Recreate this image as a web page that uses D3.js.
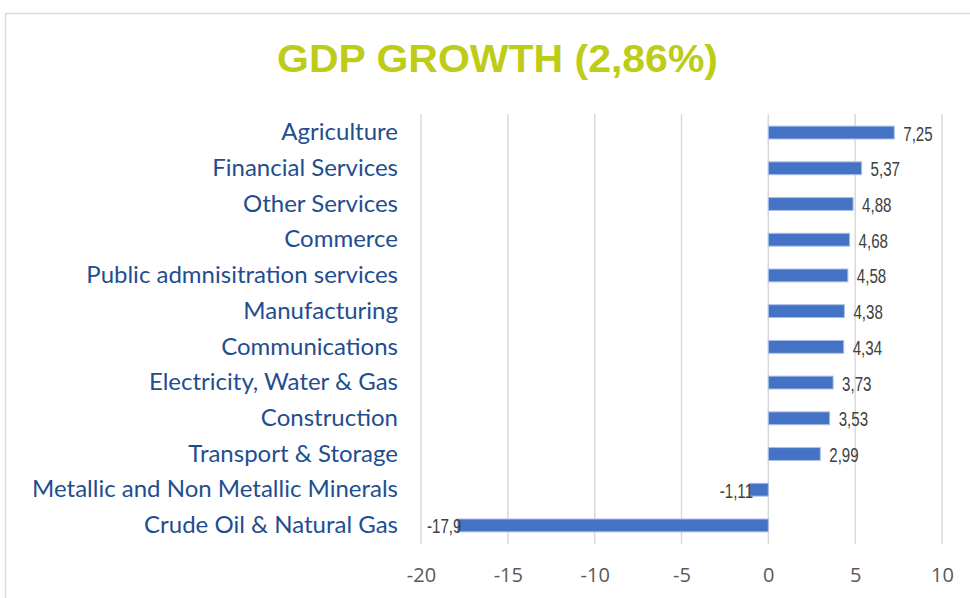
<!DOCTYPE html>
<html>
<head>
<meta charset="utf-8">
<script src="https://cdn.jsdelivr.net/npm/d3@7"></script>
<style>
  body { margin: 0; background: #fff; }
</style>
</head>
<body>
<svg></svg>
<script>
// chart data
let categories = [
  'Agriculture',
  'Financial Services',
  'Other Services',
  'Commerce',
  'Public admnisitration services',
  'Manufacturing',
  'Communications',
  'Electricity, Water & Gas',
  'Construction',
  'Transport & Storage',
  'Metallic and Non Metallic Minerals',
  'Crude Oil & Natural Gas'
];
let values = [7.25, 5.37, 4.88, 4.68, 4.58, 4.38, 4.34, 3.73, 3.53, 2.99, -1.11, -17.9];
let labels = ['7,25', '5,37', '4,88', '4,68', '4,58', '4,38', '4,34', '3,73', '3,53', '2,99', '-1,11', '-17,9'];
let ticks = [-20, -15, -10, -5, 0, 5, 10];
let title = 'GDP GROWTH (2,86%)';

// configuration of svg/plot area
let config = { svg: {}, plot: {} };
config.svg.width = 970;
config.svg.height = 598;
config.plot.left = 421;
config.plot.right = 942;
config.plot.top = 114;
config.plot.bottom = 544;

let svg = d3.select('svg')
  .attr('width', config.svg.width)
  .attr('height', config.svg.height);

// outer frame
svg.append('rect')
  .attr('x', 5.5).attr('y', 13.5)
  .attr('width', 980).attr('height', 600)
  .attr('fill', 'none')
  .attr('stroke', '#d9d9d9')
  .attr('stroke-width', 1.5);

svg.append('text')
  .attr('x', 277).attr('y', 72)
  .attr('textLength', 441)
  .attr('lengthAdjust', 'spacingAndGlyphs')
  .attr('font-family', 'Liberation Sans, sans-serif')
  .attr('font-weight', 'bold')
  .attr('font-size', 39)
  .attr('fill', '#bdcc16')
  .text(title);

let x = d3.scaleLinear().domain([-20, 10]).range([config.plot.left, config.plot.right]);
let y = d3.scaleBand().domain(categories)
  .range([config.plot.top, config.plot.bottom])
  .paddingInner(0.64).paddingOuter(0.34);

// gridlines
svg.append('g').selectAll('line').data(ticks).join('line')
  .attr('x1', d => x(d)).attr('x2', d => x(d))
  .attr('y1', config.plot.top).attr('y2', config.plot.bottom)
  .attr('stroke', '#d9d9d9').attr('stroke-width', 1.5);

// x axis tick labels
let xAxis = svg.append('g')
  .attr('transform', `translate(0,${config.plot.bottom})`)
  .call(d3.axisBottom(x).tickValues(ticks).tickFormat(d => String(d)).tickSize(0).tickPadding(24));
xAxis.select('.domain').remove();
xAxis.selectAll('text')
  .attr('font-family', 'Open Sans, sans-serif')
  .attr('font-size', 20)
  .attr('fill', '#595959');

// category labels
let yAxis = svg.append('g')
  .attr('transform', `translate(398,0)`)
  .call(d3.axisLeft(y).tickSize(0).tickPadding(0));
yAxis.select('.domain').remove();
yAxis.selectAll('text')
  .attr('font-family', 'Lato, sans-serif')
  .attr('font-size', 24)
  .attr('fill', '#1f4e8f');

let rows = categories.map((c, i) => ({ cat: c, value: values[i], label: labels[i] }));

// bars
svg.append('g').selectAll('rect').data(rows).join('rect')
  .attr('x', d => x(Math.min(0, d.value)))
  .attr('y', d => y(d.cat))
  .attr('width', d => Math.abs(x(d.value) - x(0)))
  .attr('height', y.bandwidth())
  .attr('fill', '#4472c4')
  .attr('stroke', '#a9bfe6')
  .attr('stroke-width', 1);

// value labels (narrow font, squeezed horizontally)
svg.append('g').selectAll('text').data(rows).join('text')
  .attr('transform', d => {
    let tx = d.value >= 0 ? x(d.value) + 9 : x(d.value) + 4;
    let ty = y(d.cat) + y.bandwidth() / 2 + 8;
    return `translate(${tx},${ty}) scale(0.72,1)`;
  })
  .attr('text-anchor', d => d.value >= 0 ? 'start' : 'end')
  .attr('font-family', 'Liberation Sans, sans-serif')
  .attr('font-size', 21)
  .attr('fill', '#404040')
  .text(d => d.label);
</script>
</body>
</html>
